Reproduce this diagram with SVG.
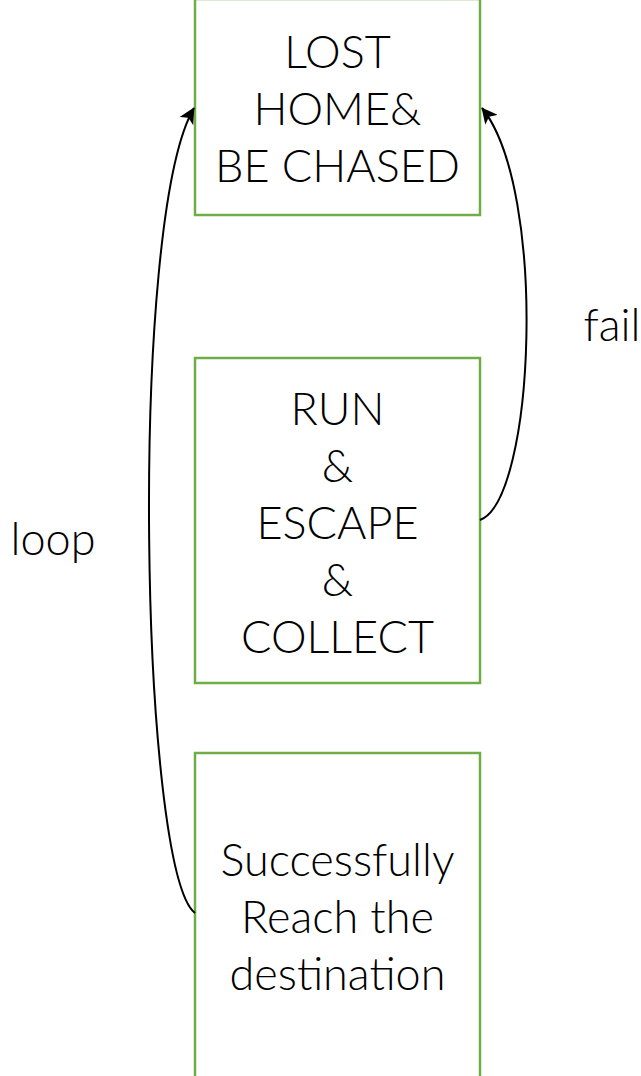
<svg xmlns="http://www.w3.org/2000/svg" width="641" height="1076" viewBox="0 0 641 1076">
<style>
.box{fill:#fff;stroke:#70AD47;stroke-width:2.5}
.t{font-family:Lato,"Open Sans","Liberation Sans",sans-serif;font-weight:300;font-size:45px;fill:#000;text-anchor:middle}
.c{fill:none;stroke:#000;stroke-width:2}
</style>
<defs>
<marker id="ah" viewBox="0 0 10 10" refX="9.5" refY="5" markerWidth="8" markerHeight="8" orient="auto" markerUnits="strokeWidth">
<path d="M0,0 L10,5 L0,10 L2.5,5 Z" fill="#000"/>
</marker>
</defs>
<rect width="641" height="1076" fill="#fff"/>
<g id="n1">
<rect class="box" x="195" y="-1" width="285" height="216"/>
<text class="t" x="337.5" y="68">LOST</text>
<text class="t" x="337.5" y="125">HOME&amp;</text>
<text class="t" x="337.5" y="182">BE CHASED</text>
</g>
<g id="n2">
<rect class="box" x="195" y="358" width="285" height="325"/>
<text class="t" x="337.5" y="425">RUN</text>
<text class="t" x="337.5" y="482">&amp;</text>
<text class="t" x="337.5" y="539">ESCAPE</text>
<text class="t" x="337.5" y="596">&amp;</text>
<text class="t" x="337.5" y="653">COLLECT</text>
</g>
<g id="n3">
<rect class="box" x="195" y="753" width="285" height="340"/>
<text class="t" x="337.5" y="876">Successfully</text>
<text class="t" x="337.5" y="933">Reach the</text>
<text class="t" x="337.5" y="990">destination</text>
</g>
<g id="connectors">
<path class="c" d="M195,913 C140,870 128,220 194,108" marker-end="url(#ah)"/>
<path class="c" d="M480,520 C535,500 548,190 482,108" marker-end="url(#ah)"/>
<text class="t" x="53" y="555">loop</text>
<text class="t" x="612" y="341">fail</text>
</g>
</svg>
